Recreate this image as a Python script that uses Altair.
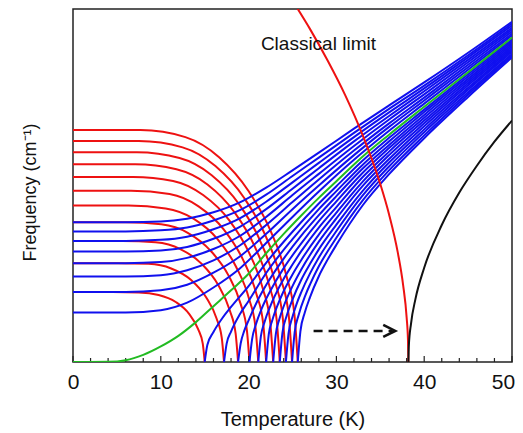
import altair as alt
import pandas as pd

# ---------------- data (T in K, F in arbitrary frequency units 0-100) ----
# ferroelectric (soft, red) branches below Tc
red_1_T = [0, 4.5, 7.5, 9.75, 11.7, 13.2, 14.25, 14.78, 15.0]
red_1_F = [19.8, 19.8, 19.7, 19.0, 17.0, 13.7, 9.3, 5.2, 0]
red_2_T = [0, 5.16, 8.6, 11.18, 13.42, 15.14, 16.34, 16.94, 17.2]
red_2_F = [28.0, 28.0, 27.8, 26.5, 23.3, 18.4, 12.4, 6.9, 0]
red_3_T = [0, 5.64, 9.4, 12.22, 14.66, 16.54, 17.86, 18.52, 18.8]
red_3_F = [34.3, 34.3, 33.9, 32.0, 27.8, 21.8, 14.6, 8.1, 0]
red_4_T = [0, 6.03, 10.05, 13.07, 15.68, 17.69, 19.1, 19.8, 20.1]
red_4_F = [39.6, 39.6, 39.0, 36.6, 31.5, 24.6, 16.4, 9.1, 0]
red_5_T = [0, 6.33, 10.55, 13.72, 16.46, 18.57, 20.05, 20.78, 21.1]
red_5_F = [44.3, 44.3, 43.5, 40.6, 34.8, 27.0, 17.9, 9.9, 0]
red_6_T = [0, 6.6, 11.0, 14.3, 17.16, 19.36, 20.9, 21.67, 22.0]
red_6_F = [48.5, 48.5, 47.6, 44.1, 37.6, 29.0, 19.2, 10.7, 0]
red_7_T = [0, 6.84, 11.4, 14.82, 17.78, 20.06, 21.66, 22.46, 22.8]
red_7_F = [52.4, 52.4, 51.3, 47.3, 40.2, 30.9, 20.5, 11.3, 0]
red_8_T = [0, 7.07, 11.78, 15.31, 18.37, 20.72, 22.37, 23.2, 23.55]
red_8_F = [56.0, 56.0, 54.6, 50.3, 42.5, 32.6, 21.5, 11.9, 0]
red_9_T = [0, 7.28, 12.13, 15.76, 18.92, 21.34, 23.04, 23.89, 24.25]
red_9_F = [59.4, 59.4, 57.8, 53.0, 44.7, 34.2, 22.5, 12.5, 0]
red_10_T = [0, 7.49, 12.48, 16.22, 19.46, 21.96, 23.7, 24.58, 24.95]
red_10_F = [62.6, 62.6, 60.8, 55.5, 46.6, 35.6, 23.4, 13.0, 0]
red_11_T = [0, 7.68, 12.8, 16.64, 19.97, 22.53, 24.32, 25.22, 25.6]
red_11_F = [65.7, 65.7, 63.7, 58.0, 48.5, 37.0, 24.3, 13.4, 0]

# soft-mode (blue) branches above Tc
blue_1_T = [15, 15.3, 16, 17, 18, 20, 22, 25, 28, 30, 33, 36, 40, 45, 50]
blue_1_F = [0, 4.8, 8.5, 12.4, 15.6, 21.5, 28.1, 36.9, 44.9, 49.8, 57.1, 63.5, 71.5, 81.5, 91.4]
blue_2_T = [17.2, 17.5, 18, 19, 20, 22, 25, 28, 30, 33, 36, 40, 45, 50]
blue_2_F = [0, 5.2, 8.6, 13.5, 17.3, 25.2, 34.8, 43.3, 48.4, 55.9, 62.5, 70.8, 80.9, 90.9]
blue_3_T = [18.8, 19.1, 19.5, 20, 21, 22, 24, 26, 28, 30, 33, 36, 40, 45, 50]
blue_3_F = [0, 5.3, 8.8, 11.8, 17.3, 21.8, 29.3, 35.8, 41.6, 47.0, 54.8, 61.5, 70.0, 80.2, 90.4]
blue_4_T = [20.1, 20.4, 20.8, 21.5, 22, 23, 24, 26, 28, 30, 33, 36, 40, 45, 50]
blue_4_F = [0, 6.5, 10.4, 15.2, 17.9, 22.5, 26.6, 33.6, 39.9, 45.5, 53.6, 60.6, 69.2, 79.6, 89.9]
blue_5_T = [21.1, 21.4, 21.8, 22.5, 23, 24, 25, 26, 28, 30, 33, 36, 40, 45, 50]
blue_5_F = [0, 7.3, 11.2, 16.0, 18.8, 23.6, 27.6, 31.4, 38.1, 43.9, 52.4, 59.6, 68.4, 79.0, 89.4]
blue_6_T = [22.0, 22.3, 22.7, 23.5, 24, 25, 26, 28, 30, 33, 36, 40, 45, 50]
blue_6_F = [0, 7.9, 11.8, 17.3, 20.1, 24.8, 28.9, 36.1, 42.3, 51.1, 58.6, 67.6, 78.4, 88.9]
blue_7_T = [22.8, 23.1, 23.5, 24, 25, 26, 28, 30, 33, 36, 40, 45, 50]
blue_7_F = [0, 7.9, 12.1, 15.8, 21.5, 26.2, 34.1, 40.7, 49.9, 57.5, 66.8, 77.7, 88.4]
blue_8_T = [23.55, 23.85, 24.3, 25, 26, 27, 28, 30, 33, 36, 40, 45, 50]
blue_8_F = [0, 8.2, 12.8, 17.7, 23.3, 27.8, 31.9, 38.9, 48.5, 56.5, 65.9, 77.1, 87.9]
blue_9_T = [24.25, 24.55, 25, 25.5, 26, 27, 28, 30, 33, 36, 40, 45, 50]
blue_9_F = [0, 8.1, 12.8, 16.7, 19.8, 25.1, 29.6, 37.1, 47.2, 55.4, 65.1, 76.4, 87.3]
blue_10_T = [24.95, 25.25, 25.7, 26.5, 27, 28, 30, 33, 36, 40, 45, 50]
blue_10_F = [0, 8.5, 13.3, 19.1, 22.0, 27.1, 35.2, 45.8, 54.3, 64.2, 75.8, 86.8]
blue_11_T = [25.6, 25.9, 26.4, 27, 28, 29, 30, 33, 36, 40, 45, 50]
blue_11_F = [0, 8.7, 14.0, 18.4, 24.3, 29.0, 33.2, 44.4, 53.2, 63.4, 75.1, 86.3]

# quantum paraelectric (blue) curves
para_T = [0, 6, 10, 13, 16, 19, 22, 25, 28, 32, 36, 40, 45, 50]
para_1_F = [14.0, 14.0, 14.68, 16.8, 21.1, 26.5, 33.7, 41.1, 48.3, 57.3, 65.5, 73.2, 82.8, 92.5]
para_2_F = [19.8, 19.8, 20.3, 21.9, 25.3, 29.9, 36.3, 43.3, 50.0, 58.6, 66.6, 74.1, 83.5, 93.0]
para_3_F = [24.2, 24.2, 24.6, 26.0, 28.8, 33.0, 38.8, 45.3, 51.7, 59.9, 67.6, 74.9, 84.2, 93.6]
para_4_F = [28.0, 28.0, 28.3, 29.5, 32.0, 35.7, 41.1, 47.3, 53.3, 61.2, 68.7, 75.8, 84.9, 94.2]
para_5_F = [31.3, 31.3, 31.6, 32.6, 34.9, 38.3, 43.3, 49.1, 54.9, 62.5, 69.7, 76.7, 85.6, 94.7]
para_6_F = [34.3, 34.3, 34.6, 35.5, 37.6, 40.7, 45.4, 50.9, 56.4, 63.7, 70.7, 77.5, 86.3, 95.3]
para_7_F = [37.0, 37.0, 37.3, 38.1, 40.1, 43.0, 47.4, 52.7, 57.9, 64.9, 71.7, 78.3, 86.9, 95.9]
para_8_F = [39.6, 39.6, 39.8, 40.6, 42.4, 45.2, 49.4, 54.3, 59.3, 66.1, 72.7, 79.2, 87.6, 96.4]

# borderline (green) curve
green_T = [0, 4, 6, 8, 10, 12, 14, 16, 18, 20, 22, 24, 26, 28, 30, 33, 36, 40, 45, 50]
green_F = [0, 0.05, 0.5, 2.0, 4.4, 7.4, 11.3, 15.8, 20.3, 25.0, 30.8, 36.3, 41.5, 46.5,
           51.2, 58.2, 64.4, 72.3, 82.1, 91.9]

# classical limit (red, below Tc) and its soft mode above Tc (black)
classic_T = [25.3, 27, 29, 31, 33, 35, 36, 37, 37.6, 38.0, 38.15, 38.2]
classic_F = [101.2, 94.3, 85.4, 75.6, 64.2, 50.4, 41.8, 30.9, 21.8, 12.6, 6.3, 0]
black_T = [38.2, 38.25, 38.5, 39, 40, 42, 44, 46, 48, 50]
black_F = [0, 4.5, 10.9, 17.8, 26.7, 38.8, 48.0, 55.6, 62.4, 68.4]

# dashed arrow
arrow_T = [27.4, 36.4]
arrow_F = [8.8, 8.8]
arrow_tip_T = [36.7]
arrow_tip_F = [8.8]

label_text = ["Classical limit"]
label_T = [21.4]
label_F = [88.4]

x_ticks = [0, 10, 20, 30, 40, 50]
x_minor = [2, 4, 6, 8, 12, 14, 16, 18, 22, 24, 26, 28, 32, 34, 36, 38, 42, 44, 46, 48]

# ---------------- build tables ----------------
def frame(curves):
    rows = []
    for name, ts, fs in curves:
        for t, f in zip(ts, fs):
            rows.append({"T": t, "F": f, "curve": name})
    return pd.DataFrame(rows)

red_df = frame([
    ("r1", red_1_T, red_1_F), ("r2", red_2_T, red_2_F), ("r3", red_3_T, red_3_F),
    ("r4", red_4_T, red_4_F), ("r5", red_5_T, red_5_F), ("r6", red_6_T, red_6_F),
    ("r7", red_7_T, red_7_F), ("r8", red_8_T, red_8_F), ("r9", red_9_T, red_9_F),
    ("r10", red_10_T, red_10_F), ("r11", red_11_T, red_11_F),
])
blue_df = frame([
    ("b1", blue_1_T, blue_1_F), ("b2", blue_2_T, blue_2_F), ("b3", blue_3_T, blue_3_F),
    ("b4", blue_4_T, blue_4_F), ("b5", blue_5_T, blue_5_F), ("b6", blue_6_T, blue_6_F),
    ("b7", blue_7_T, blue_7_F), ("b8", blue_8_T, blue_8_F), ("b9", blue_9_T, blue_9_F),
    ("b10", blue_10_T, blue_10_F), ("b11", blue_11_T, blue_11_F),
    ("p1", para_T, para_1_F), ("p2", para_T, para_2_F), ("p3", para_T, para_3_F),
    ("p4", para_T, para_4_F), ("p5", para_T, para_5_F), ("p6", para_T, para_6_F),
    ("p7", para_T, para_7_F), ("p8", para_T, para_8_F),
])
green_df = frame([("g", green_T, green_F)])
classic_df = frame([("c", classic_T, classic_F)])
black_df = frame([("k", black_T, black_F)])
arrow_df = frame([("a", arrow_T, arrow_F)])
tip_df = pd.DataFrame({"T": arrow_tip_T, "F": arrow_tip_F})
label_df = pd.DataFrame({"T": label_T, "F": label_F, "text": label_text})
major_df = pd.DataFrame({"T": x_ticks})
minor_df = pd.DataFrame({"T": x_minor})

FONT = "Liberation Sans"
xscale = alt.Scale(domain=[0, 50], nice=False, zero=False)
yscale = alt.Scale(domain=[0, 100], nice=False, zero=False)

x_axis = alt.Axis(values=x_ticks, title="Temperature (K)", grid=False, domain=False, ticks=False,
                  labelFontSize=21, labelPadding=9, labelColor="#111", titleFontSize=20,
                  titleFontWeight="normal", titlePadding=17, titleColor="#111", labelFont=FONT,
                  titleFont=FONT, labelFlush=False,
                  labelOffset={"condition": {"test": "datum.value === 50", "value": -9},
                               "value": 0})
y_axis = alt.Axis(title="Frequency (cm⁻¹)", grid=False, domain=False, ticks=False, labels=False,
                  titleFontSize=18, titleFontWeight="normal", titlePadding=34, titleColor="#111",
                  titleFont=FONT, titleY=183)

X = alt.X("T:Q", scale=xscale, axis=x_axis)
Y = alt.Y("F:Q", scale=yscale, axis=y_axis)


def lines(df, color, width=2.0, dash=None):
    kw = dict(color=color, strokeWidth=width, interpolate="monotone", clip=True)
    if dash:
        kw["strokeDash"] = dash
        kw["interpolate"] = "linear"
    return alt.Chart(df).mark_line(**kw).encode(x=X, y=Y, detail="curve:N")


red = lines(red_df, "#ee1111")
major = alt.Chart(major_df).mark_rule(color="#222", strokeWidth=1.2).encode(
    x=X, y=alt.value(353), y2=alt.value(347))
minor = alt.Chart(minor_df).mark_rule(color="#222", strokeWidth=1.2).encode(
    x=X, y=alt.value(353), y2=alt.value(349))

blue = lines(blue_df, "#1010ee")
green = lines(green_df, "#22bb22")
classic = lines(classic_df, "#ee1111")
black = lines(black_df, "#111111")
arrow = lines(arrow_df, "#111111", width=2.6, dash=[9, 6])
tip = alt.Chart(tip_df).mark_point(shape="M -2 -1 L 0 0 L -2 1", filled=False, size=144,
                                   strokeWidth=2.6, color="#111111", opacity=1).encode(x=X, y=Y)
label = alt.Chart(label_df).mark_text(align="left", baseline="alphabetic", fontSize=19,
                                      font=FONT, color="#111").encode(x=X, y=Y, text="text:N")

chart = alt.layer(red, major, minor, blue, green, classic, black, arrow, tip, label).properties(
    width=439, height=353,
    autosize=alt.AutoSizeParams(type="none"),
    padding={"left": 65, "top": 1, "right": 3, "bottom": 70},
).configure_view(stroke="#222", strokeWidth=1.5)

chart.save("out.html", embed_options={"renderer": "svg", "actions": False})
